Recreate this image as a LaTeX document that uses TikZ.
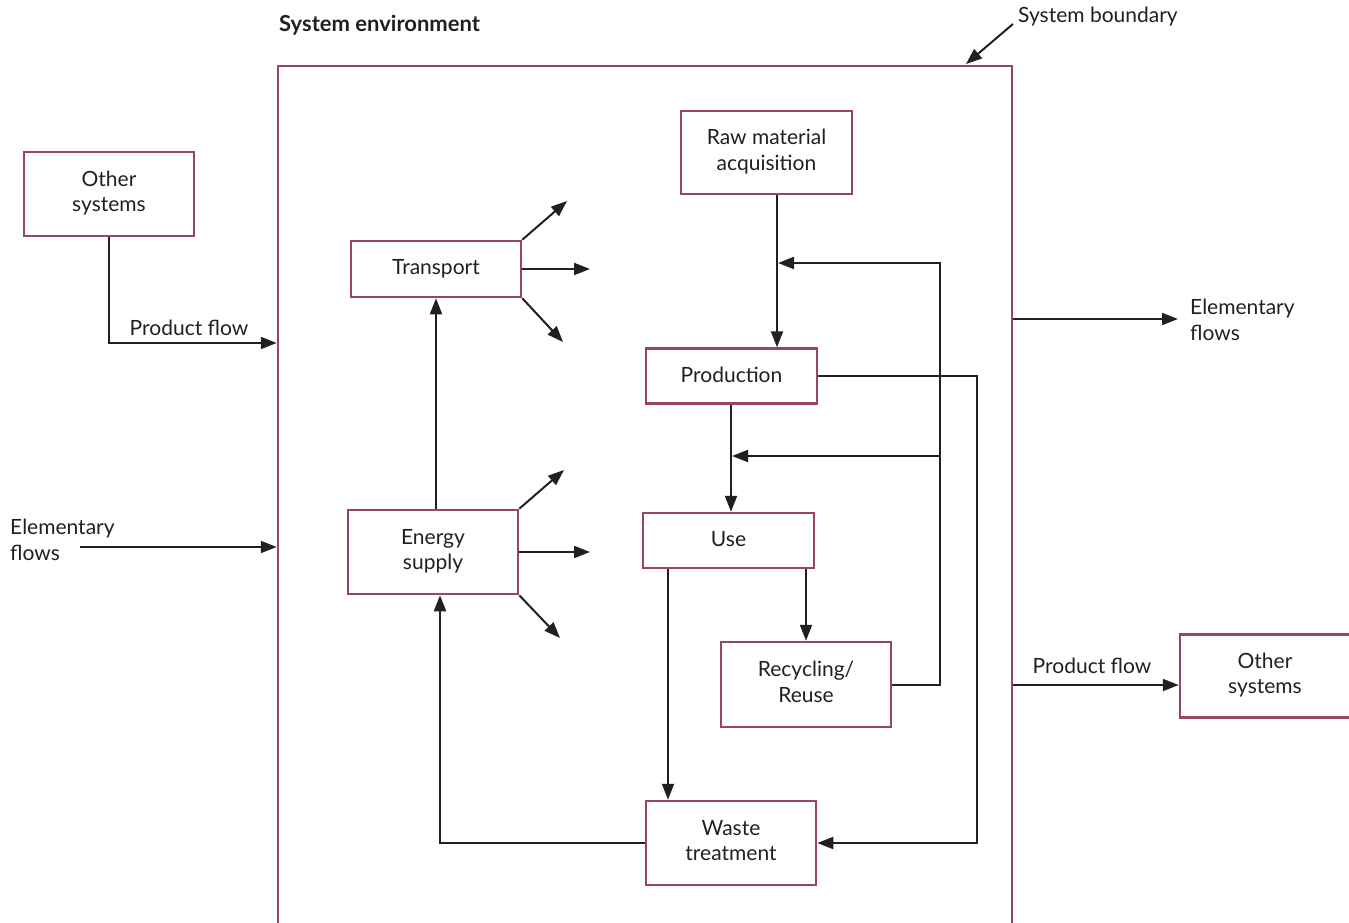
\documentclass[tikz,border=0pt]{standalone}
\usepackage{fontspec}
\setmainfont{Lato}
\usetikzlibrary{arrows.meta}
\definecolor{boxc}{HTML}{9A4567}
\definecolor{ink}{HTML}{231F20}
\newcommand{\twoline}[2]{\raisebox{3pt}{\begin{tabular}{@{}c@{}}#1\\#2\end{tabular}}}
\begin{document}
\begin{tikzpicture}[x=1pt,y=-1pt,
  box/.style={draw=boxc,line width=2.5pt,inner sep=0pt,align=center,font=\fontsize{21}{25.5}\selectfont,text=ink},
  flow/.style={draw=ink,line width=2pt,-{Triangle[length=16pt,width=12pt]}},
  lbl/.style={font=\fontsize{21}{25.5}\selectfont,inner sep=0pt,text=ink}]
\clip (0,0) rectangle (1349,923);
% boxes
\node[box,minimum width=734pt,minimum height=874pt] (sys) at (645,503) {};
\node[box,minimum width=170pt,minimum height=84pt] (other1) at (109,194) {\twoline{Other}{systems}};
\node[box,minimum width=170pt,minimum height=56pt] (transport) at (436,269) {\raisebox{3pt}{Transport}};
\node[box,minimum width=170pt,minimum height=84pt] (energy) at (433,552) {\twoline{Energy}{supply}};
\node[box,minimum width=171pt,minimum height=83pt] (raw) at (766.5,152.5) {\twoline{Raw material}{acquisition}};
\node[box,minimum width=171pt,minimum height=55pt] (prod) at (731.5,376) {\raisebox{3pt}{Production}};
\node[box,minimum width=171pt,minimum height=55pt] (use) at (728.5,540.5) {\raisebox{3pt}{Use}};
\node[box,minimum width=170pt,minimum height=85pt] (recyc) at (806,684.5) {\twoline{Recycling/}{Reuse}};
\node[box,minimum width=170pt,minimum height=84pt] (waste) at (731,843) {\twoline{Waste}{treatment}};
\node[box,minimum width=180pt,minimum height=83pt] (other2) at (1270,676) {\hspace*{-10pt}\twoline{Other}{systems}};
% labels
\node[lbl,anchor=west,font=\fontsize{22}{26}\selectfont\bfseries] (env) at (279,25) {System environment};
\node[lbl,anchor=west] (sbl) at (1018,17) {System boundary};
\node[lbl] (pf1) at (189,328) {Product flow};
\node[lbl,anchor=west,align=left] (el1) at (10,540) {Elementary\\flows};
\node[lbl,anchor=west,align=left] (el2) at (1190,320) {Elementary\\flows};
\node[lbl] (pf2) at (1092,666) {Product flow};
% free ends
\coordinate (sbs) at (1013,24);
\coordinate (sbe) at (966,64);
\coordinate (elin) at (80,547);
\coordinate (t1) at (567,201);
\coordinate (t2) at (590,269);
\coordinate (t3) at (563,342);
\coordinate (e1) at (564,470);
\coordinate (e2) at (590,552);
\coordinate (e3) at (560,638);
\coordinate (elout) at (1178,319);
\coordinate (xr) at (777,0);
\coordinate (xp) at (731,0);
\coordinate (xu) at (806,0);
\coordinate (xw) at (668,0);
\coordinate (xe) at (440,0);
\coordinate (xt) at (436,0);
\coordinate (fbx) at (940,0);
\coordinate (pbx) at (977,0);
\coordinate (y1) at (0,263);
\coordinate (y2) at (0,456);
\coordinate (y3) at (0,685);
\coordinate (y4) at (0,343);
\coordinate (y5) at (0,319);
% connectors
\draw[flow] (sbs) -- (sbe);
\draw[flow] (other1.south) |- (sys.west |- y4);
\draw[flow] (elin) -- (sys.west |- elin);
\draw[flow] (transport.north east) -- (t1);
\draw[flow] (transport.east) -- (t2);
\draw[flow] (transport.south east) -- (t3);
\draw[flow] (energy.north east) -- (e1);
\draw[flow] (energy.east) -- (e2);
\draw[flow] (energy.south east) -- (e3);
\draw[flow] (energy.north -| xt) -- (transport.south -| xt);
\draw[flow] (raw.south -| xr) -- (prod.north -| xr);
\draw[flow] (recyc.east) -| (fbx |- y1) -- ([xshift=1pt]xr |- y1);
\draw[flow] (fbx |- y2) -- ([xshift=1pt]xp |- y2);
\draw[flow] (prod.south -| xp) -- (use.north -| xp);
\draw[flow] (use.south -| xu) -- (recyc.north -| xu);
\draw[flow] (use.south -| xw) -- (waste.north -| xw);
\draw[flow] (prod.east) -| (pbx |- waste.east) -- (waste.east);
\draw[flow] (waste.west) -| (energy.south -| xe);
\draw[flow] (sys.east |- y5) -- (elout);
\draw[flow] (sys.east |- y3) -- (other2.west |- y3);
\end{tikzpicture}
\end{document}
